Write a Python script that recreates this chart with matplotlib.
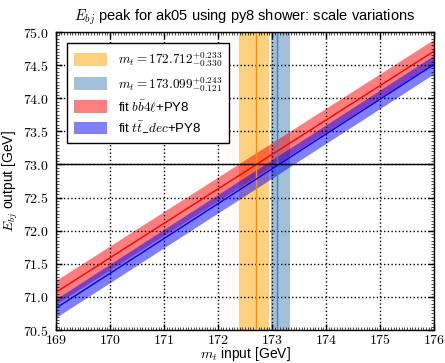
import matplotlib
matplotlib.use("Agg")
import matplotlib.pyplot as plt
from matplotlib.ticker import MultipleLocator, FuncFormatter
import numpy as np

plt.rcParams['mathtext.fontset'] = 'cm'
plt.rcParams['font.family'] = ['Liberation Sans', 'DejaVu Sans']

# data
mt_input = [169.0, 176.0]
fit_bb4l = [71.07, 74.71]
fit_bb4l_err = 0.18
fit_ttdec = [70.83, 74.51]
fit_ttdec_err = 0.14
mt_bb4l = 172.712
mt_bb4l_up = 0.233
mt_bb4l_dn = 0.330
mt_tt = 173.099
mt_tt_up = 0.243
mt_tt_dn = 0.121
ref_output = 73.0
xticks = [169, 170, 171, 172, 173, 174, 175, 176]
yticks = [70.5, 71.0, 71.5, 72.0, 72.5, 73.0, 73.5, 74.0, 74.5, 75.0]

fig = plt.figure(figsize=(4.45, 3.63), dpi=100)
ax = fig.add_axes([56/445, 1 - 330/363, (434 - 56)/445, (330 - 32)/363])

x = np.array(mt_input)
r = np.array(fit_bb4l)
b = np.array(fit_ttdec)

h1 = ax.axvspan(mt_bb4l - mt_bb4l_dn, mt_bb4l + mt_bb4l_up, color='orange', alpha=0.5, lw=0)
ax.axvline(mt_bb4l, color='darkorange', lw=1)
h2 = ax.axvspan(mt_tt - mt_tt_dn, mt_tt + mt_tt_up, color='steelblue', alpha=0.5, lw=0)
ax.axvline(mt_tt, color='steelblue', lw=1)

h3 = ax.fill_between(x, r - fit_bb4l_err, r + fit_bb4l_err, color='red', alpha=0.5, lw=0)
ax.plot(x, r, color='red', lw=1)
h4 = ax.fill_between(x, b - fit_ttdec_err, b + fit_ttdec_err, color='blue', alpha=0.5, lw=0)
ax.plot(x, b, color='blue', lw=1)

ax.axhline(ref_output, color='black', lw=1)

ax.set_xlim(169, 176)
ax.set_ylim(70.5, 75.0)
ax.set_xticks(xticks)
ax.set_yticks(yticks)
ax.xaxis.set_major_formatter(FuncFormatter(lambda v, p: r'$%d$' % round(v)))
ax.yaxis.set_major_formatter(FuncFormatter(lambda v, p: r'$%.1f$' % v))
ax.xaxis.set_minor_locator(MultipleLocator(0.05))
ax.yaxis.set_minor_locator(MultipleLocator(0.05))
ax.tick_params(which='both', direction='in', top=True, right=True, labelsize=10, colors='black')
ax.tick_params(which='major', length=4, width=1)
ax.tick_params(axis='x', which='major', pad=2)
ax.tick_params(axis='y', which='major', pad=5)
ax.tick_params(which='minor', length=2, width=0.5)
ax.grid(True, which='major', color='black', linestyle=':', lw=1)
for s in ax.spines.values():
    s.set_linewidth(1)

ax.set_xlabel(r'$m_t$ input [GeV]', fontsize=10, labelpad=-1)
ax.set_ylabel(r'$E_{bj}$ output [GeV]', fontsize=10, labelpad=2)
ax.set_title(r'$E_{bj}$ peak for ak05 using py8 shower: scale variations', fontsize=10.5, pad=8)

labels = [r'$m_t = %.3f^{+%.3f}_{-%.3f}$' % (mt_bb4l, mt_bb4l_up, mt_bb4l_dn),
          r'$m_t = %.3f^{+%.3f}_{-%.3f}$' % (mt_tt, mt_tt_up, mt_tt_dn),
          r'fit $b\bar{b}4\ell$+PY8',
          r'fit $t\bar{t}\_dec$+PY8']
leg = ax.legend([h1, h2, h3, h4], labels, loc='upper left', fontsize=9.5, fancybox=False,
                framealpha=1, edgecolor='black', handlelength=2.5, handleheight=1.1,
                borderpad=0.55, labelspacing=0.4, bbox_to_anchor=(0.012, 0.985))
leg.get_frame().set_linewidth(1)

fig.savefig('out.png', dpi=100)
